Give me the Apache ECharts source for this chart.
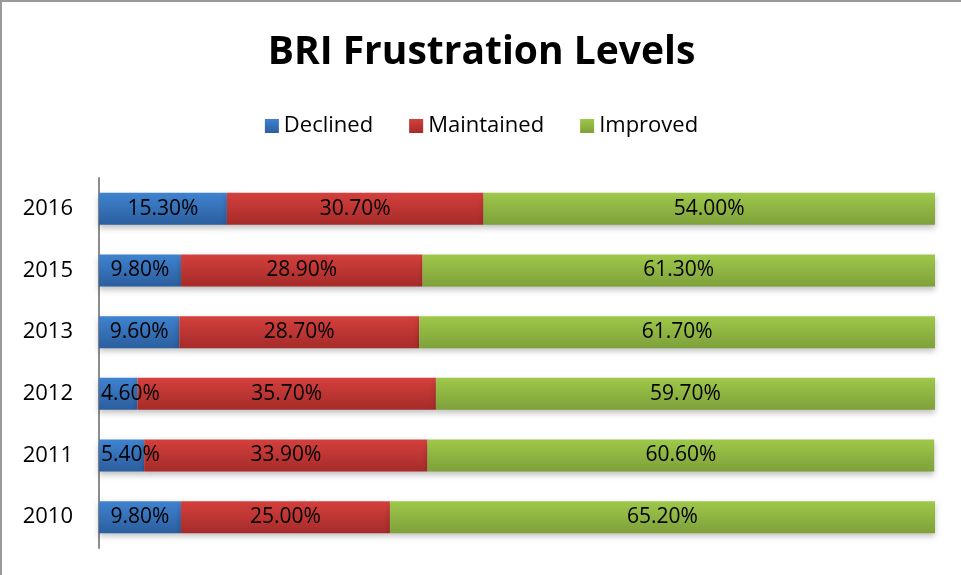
<!DOCTYPE html>
<html>
<head>
<meta charset="utf-8">
<script src="https://cdn.jsdelivr.net/npm/echarts@6/dist/echarts.min.js"></script>
<style>
  html, body { margin: 0; padding: 0; background: #fff; }
  #main { width: 959px; height: 573px; border-top: 2px solid #9a9a9a; border-left: 2px solid #9a9a9a; }
</style>
</head>
<body>
<div id="main"></div>
<script>
var years = ['2010', '2011', '2012', '2013', '2015', '2016'];
var declined = [9.8, 5.4, 4.6, 9.6, 9.8, 15.3];
var maintained = [25.0, 33.9, 35.7, 28.7, 28.9, 30.7];
var improved = [65.2, 60.6, 59.7, 61.7, 61.3, 54.0];

var chartDom = document.getElementById('main');
var myChart = echarts.init(chartDom);
var font = '"Open Sans", "Noto Sans", sans-serif';

function grad(top, bottom) {
  return new echarts.graphic.LinearGradient(0, 0, 0, 1, [
    { offset: 0, color: top },
    { offset: 1, color: bottom }
  ]);
}

function makeSeries(name, data, top, bottom) {
  return {
    name: name,
    type: 'bar',
    stack: 'total',
    barWidth: 32,
    // labels that do not fit start at the bar's left edge
    data: data.map(function (v) {
      return v < 8 ? { value: v, label: { position: 'insideLeft', distance: 2 } } : v;
    }),
    itemStyle: {
      color: grad(top, bottom),
      shadowColor: 'rgba(0,0,0,0.25)',
      shadowBlur: 6,
      shadowOffsetY: 3
    },
    label: {
      show: true,
      position: 'inside',
      color: '#000',
      fontSize: 21,
      fontFamily: font,
      formatter: function (p) { return p.value.toFixed(2) + '%'; }
    }
  };
}

var option = {
  animation: false,
  title: {
    text: 'BRI Frustration Levels',
    left: 'center',
    top: 26,
    textStyle: { fontSize: 39, fontWeight: 'bold', fontFamily: font, color: '#000' }
  },
  legend: {
    top: 108,
    left: 'center',
    itemWidth: 14,
    itemHeight: 14,
    itemGap: 36,
    icon: 'rect',
    textStyle: { fontSize: 22, fontFamily: font, color: '#000' },
    data: ['Declined', 'Maintained', 'Improved']
  },
  grid: { left: 97, right: 26, top: 176, bottom: 27 },
  xAxis: {
    type: 'value',
    min: 0,
    max: 100,
    show: false
  },
  yAxis: {
    type: 'category',
    data: years,
    axisLine: { show: true, lineStyle: { color: '#8c8c8c', width: 2 } },
    axisTick: { show: false },
    axisLabel: { fontSize: 22, fontFamily: font, color: '#000', margin: 26 }
  },
  series: [
    makeSeries('Declined', declined, '#3f83d0', '#2b5e9e'),
    makeSeries('Maintained', maintained, '#d4403d', '#a52b29'),
    makeSeries('Improved', improved, '#9fc84a', '#7ea03a')
  ]
};

myChart.setOption(option);
</script>
</body>
</html>
